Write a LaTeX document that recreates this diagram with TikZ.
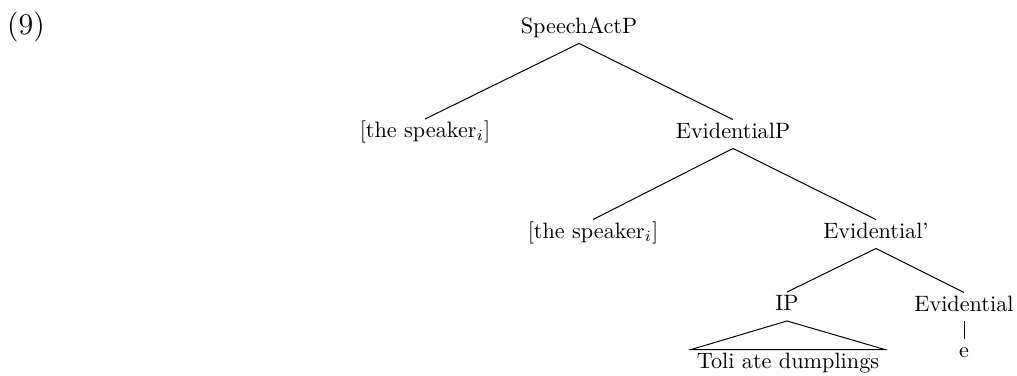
\documentclass[tikz,border=0pt]{standalone}
\begin{document}
\begin{tikzpicture}[x=0.45pt,y=-0.45pt,
  lab/.style={anchor=base,inner sep=0pt,text height=8.1pt,text depth=4.5pt},
  edge/.style={line width=0.45pt}]
\useasboundingbox (0,0) rectangle (1017,375);
\node[anchor=base,inner sep=0pt,font=\fontsize{13.5}{16}\selectfont] (ex) at (26,34) {(9)};
\node[lab] (sap) at (579,33) {SpeechActP};
\node[lab] (sp1) at (425,137.5) {[the speaker$_i$]};
\node[lab] (evp) at (733,138) {EvidentialP};
\node[lab] (sp2) at (593,238) {[the speaker$_i$]};
\node[lab] (evb) at (876,238) {Evidential'};
\node[lab] (ip) at (787,310.5) {IP};
\node[lab] (ev) at (964,311) {Evidential};
\node[lab] (e) at (964,357) {e};
\node[lab,minimum width=193*0.45pt] (toli) at (788,368) {Toli ate dumplings};
\draw[edge] (sap.south) -- (sp1.north);
\draw[edge] (sap.south) -- (evp.north);
\draw[edge] (evp.south) -- (sp2.north);
\draw[edge] (evp.south) -- (evb.north);
\draw[edge] (evb.south) -- (ip.north);
\draw[edge] (evb.south) -- (ev.north);
\draw[edge] (ev.south) -- (e.north);
\draw[edge] (ip.south) -- (toli.north west) -- (toli.north east) -- cycle;
\end{tikzpicture}
\end{document}
